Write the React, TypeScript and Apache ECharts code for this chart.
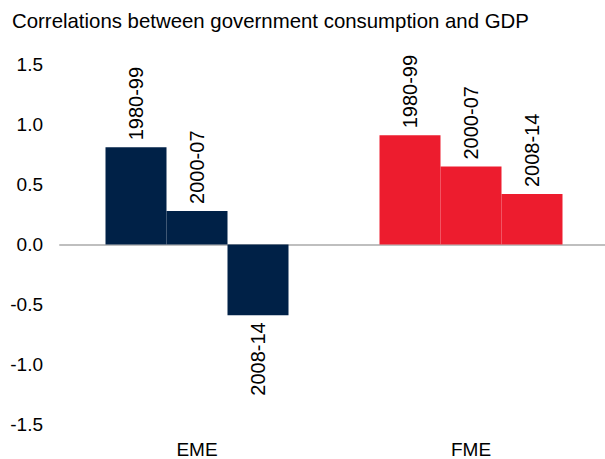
import React, { useEffect, useRef } from "react";
import * as echarts from "echarts";

const titleText = "Correlations between government consumption and GDP";
const categories = ["EME", "FME"];
const periods = ["1980-99", "2000-07", "2008-14"];
const values1980_99 = [0.81, 0.91];
const values2000_07 = [0.28, 0.65];
const values2008_14 = [-0.59, 0.42];
const categoryColors = ["#002147", "#ED1C2E"];
const yTicks = { min: -1.5, max: 1.5, interval: 0.5 };

const FONT = "'Liberation Sans', Arial, sans-serif";
const FS = 19;

export default function App() {
  const ref = useRef<HTMLDivElement>(null);
  useEffect(() => {
    if (!ref.current) return;
    const chart = echarts.init(ref.current, null, { renderer: "svg" });
    const seriesValues = [values1980_99, values2000_07, values2008_14];
    const series = periods.map((p, i) => ({
      type: "bar",
      name: p,
      barWidth: 61,
      barGap: "0%",
      data: seriesValues[i].map((v) => {
        const neg = v < 0;
        return {
          value: v,
          label: {
            show: true,
            formatter: "{a}",
            rotate: 90,
            position: neg ? "bottom" : "top",
            align: neg ? "right" : "left",
            verticalAlign: "middle",
            distance: 7,
            color: "#000",
            fontFamily: FONT,
            fontSize: 20,
          },
        };
      }),
      itemStyle: {
        color: (params: any) => categoryColors[params.dataIndex],
      },
    }));
    chart.setOption({
      animation: false,
      title: {
        text: titleText,
        left: 12,
        top: 11,
        padding: 0,
        textStyle: {
          fontFamily: FONT,
          fontSize: 20.4,
          fontWeight: "normal",
          color: "#000",
        },
      },
      grid: {
        left: 60,
        top: 64.5,
        width: 548,
        height: 360,
        outerBoundsMode: "none",
      },
      xAxis: {
        type: "category",
        data: categories,
        axisLine: { show: true, onZero: true, lineStyle: { color: "#BFBFBF", width: 2 } },
        axisTick: { show: false },
        axisLabel: {
          show: true,
          margin: 18,
          lineHeight: 14,
          color: "#000",
          fontFamily: FONT,
          fontSize: FS,
        },
        splitLine: { show: false },
      },
      yAxis: {
        type: "value",
        min: yTicks.min,
        max: yTicks.max,
        interval: yTicks.interval,
        axisLine: { show: false },
        axisTick: { show: false },
        splitLine: { show: false },
        axisLabel: {
          margin: 17,
          color: "#000",
          fontFamily: FONT,
          fontSize: FS,
          formatter: (v: number) => v.toFixed(1),
        },
      },
      series,
    });
    return () => chart.dispose();
  }, []);
  return (
    <div
      ref={ref}
      style={{ position: "fixed", left: 0, top: 0, width: 605, height: 459, background: "#fff" }}
    />
  );
}
